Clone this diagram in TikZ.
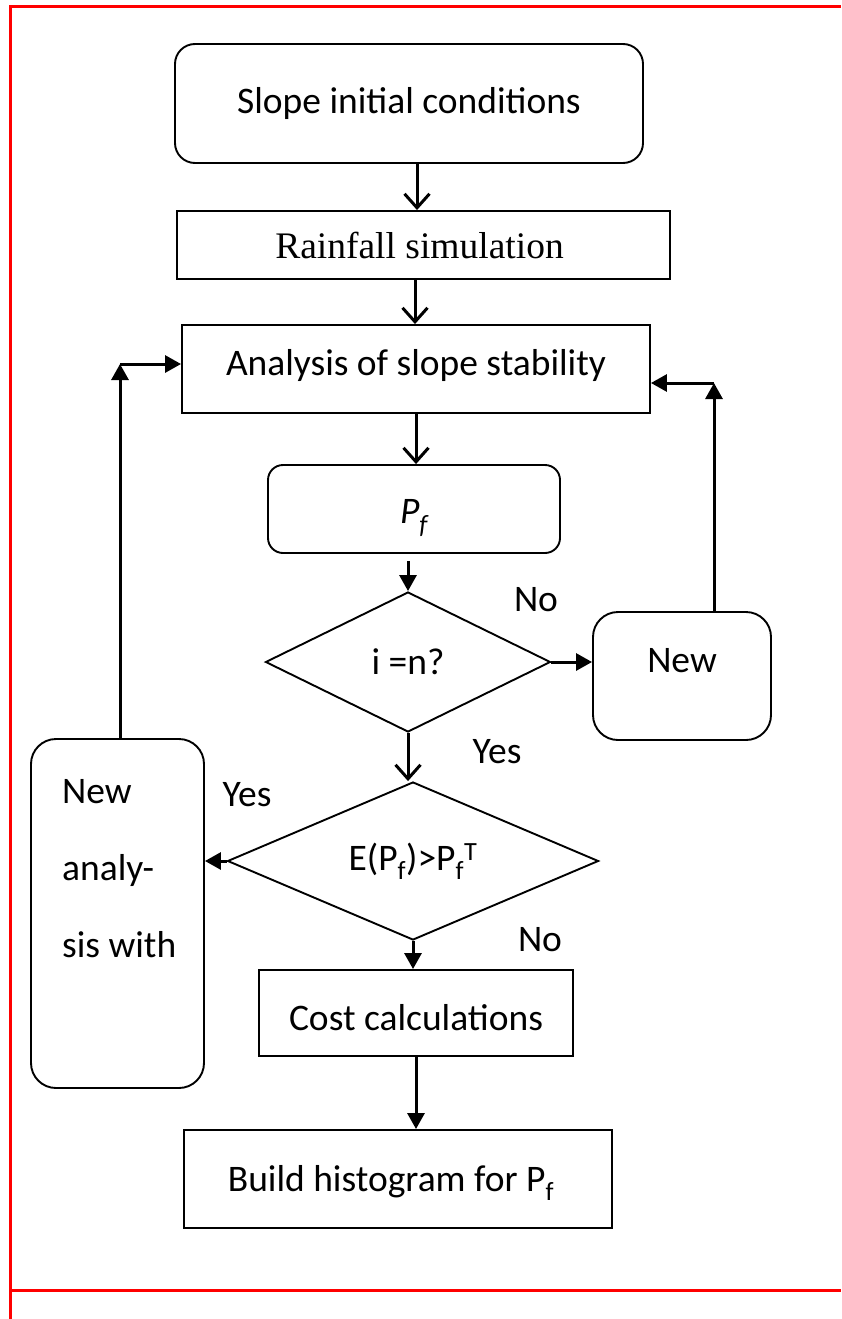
\documentclass[tikz,border=0pt]{standalone}
\usepackage{fontspec}
\setmainfont{Carlito}
\newfontfamily\timesf{Liberation Serif}
\usetikzlibrary{arrows.meta,shapes.geometric}
\newcommand{\shiftv}[2]{\raisebox{#1}[\height][\depth]{#2}}
\begin{document}
\begin{tikzpicture}[x=1pt,y=-1pt,
  box/.style={draw, line width=1.9pt, inner sep=0pt, anchor=center},
  rbox/.style={box, rounded corners=20pt},
  dia/.style={draw, diamond, line width=1.9pt, inner sep=0pt, aspect=2},
  txt/.style={font=\fontsize{37.5}{44}\selectfont},
  oarr/.style={line width=3pt, -{Straight Barb[length=14pt,width=25pt,line width=3pt]}},
  farr/.style={line width=3pt, -{Triangle[length=16pt,width=17pt]}},
  frame/.style={red, line width=3pt}]
\useasboundingbox (0,0) rectangle (841,1319);
\draw[frame] (10,1319) -- (10,7) -- (841,7);
\draw[frame] (10,1290) -- (841,1290);

\node[rbox, minimum width=468pt, minimum height=119pt, txt] (init) at (409,103.5) {Slope initial conditions};
\node[box, minimum width=493pt, minimum height=68pt, font=\timesf\fontsize{37.5}{44}\selectfont] (rain) at (423.5,245) {Rainfall simulation\hspace*{8pt}};
\node[box, minimum width=468pt, minimum height=88pt, txt] (ana) at (416,369) {\shiftv{4pt}{Analysis of slope stability}};
\node[rbox, rounded corners=15pt, minimum width=292pt, minimum height=88pt, txt] (pf) at (414,509) {\shiftv{-9pt}{\itshape P\textsubscript{f}}};
\node[dia, minimum width=285pt, minimum height=140pt, txt] (d1) at (408,662) {i =n?};
\node[rbox, rounded corners=25pt, minimum width=178pt, minimum height=128pt] (newR) at (682,676) {};
\node[txt] (newRt) at (682,661) {New};
\node[dia, minimum width=371pt, minimum height=158pt, txt] (d2) at (413,861) {E(P\textsubscript{f})>P\textsubscript{f}\textsuperscript{T}};
\node[rbox, rounded corners=25pt, minimum width=173pt, minimum height=349pt] (newL) at (117.5,913.5) {};
\node[align=left, font=\fontsize{37.5}{77}\selectfont, anchor=west, inner sep=0pt] (newLt) at (62,869) {New\\analy-\\sis with};
\node[box, minimum width=314pt, minimum height=86pt, txt] (cost) at (416,1013) {\shiftv{-5pt}{Cost calculations}};
\node[box, minimum width=428pt, minimum height=98pt, txt] (hist) at (398,1179) {\shiftv{-4pt}{Build histogram for P\textsubscript{f}}\hspace*{14pt}};

\node[txt] (no1) at (536,600) {No};
\node[txt] (yes1) at (497,752) {Yes};
\node[txt] (yes2) at (247,795) {Yes};
\node[txt] (no2) at (540,940) {No};

\coordinate (cR) at (714,383);
\coordinate (cL) at (120,364);

\draw[oarr] ([xshift=8pt]init.south) -- ([xshift=-6.5pt]rain.north);
\draw[oarr] ([xshift=-8.5pt]rain.south) -- ([xshift=-1pt]ana.north);
\draw[oarr] (ana.south) -- ([xshift=2pt]pf.north);
\draw[farr] ([xshift=-6pt,yshift=-7pt]pf.south) -- (d1.north);
\draw[farr] (d1.east) -- (d1.east -| newR.west);
\draw[farr] (newR.north -| cR) -- (cR);
\draw[farr] (cR) -- (cR -| ana.east);
\draw[oarr] (d1.south) -- ([xshift=-5pt]d2.north);
\draw[farr] (d2.west) -- (d2.west -| newL.east);
\draw[farr] (newL.north -| cL) -- (cL);
\draw[farr] (cL) -- (cL -| ana.west);
\draw[farr] (d2.south) -- (d2.south |- cost.north);
\draw[farr] (cost.south) -- (cost.south |- hist.north);
\end{tikzpicture}
\end{document}
